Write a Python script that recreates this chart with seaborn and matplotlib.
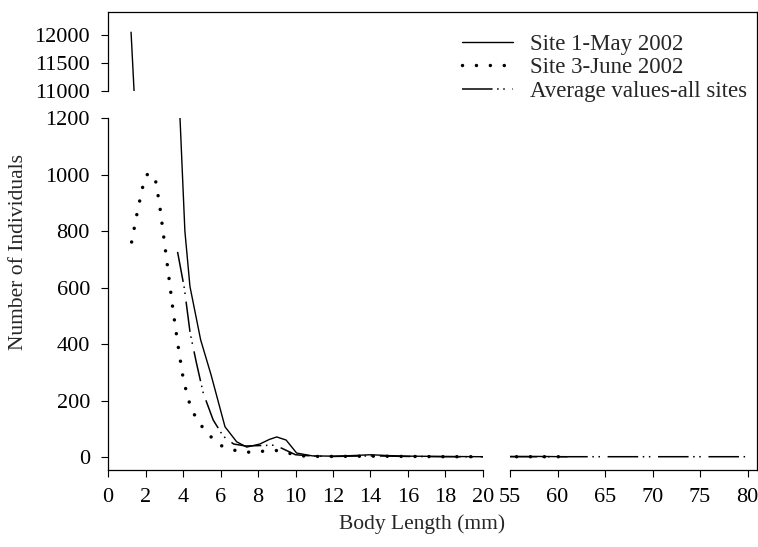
import matplotlib
matplotlib.use("Agg")
import matplotlib.pyplot as plt
import seaborn as sns

# --- data (body length in mm, number of individuals) ---
site1_x = [1.23, 2.0, 3.0, 3.84, 4.1, 4.37, 4.94, 5.5, 6.24, 6.86, 7.4, 8.1, 8.6,
           9.0, 9.5, 10.06, 10.9, 12, 13, 14, 15, 16, 18, 20, 55, 58, 61]
site1_y = [12050, 7000, 4000, 1200, 800, 604, 415, 290, 107, 54, 35, 46, 62,
           71, 60, 14, 4, 3, 5, 8, 5, 3, 2, 1, 2, 2, 1]

site3_x = [1.26, 1.53, 1.83, 2.06, 2.3, 2.51, 2.75, 3.12, 3.48, 3.79, 4.02, 4.2,
           4.4, 4.75, 5.3, 6.0, 6.73, 7.45, 8.18, 8.9, 9.6, 10.3, 11, 12, 14,
           16, 18, 20, 55, 58, 61]
site3_y = [761, 856, 951, 999, 1003, 989, 894, 703, 513, 370, 274, 227,
           178, 131, 83, 41, 24, 17, 20, 24, 14, 4, 2, 2, 3,
           2, 1, 1, 1, 1, 1]

avg_x = [3.71, 4.07, 4.38, 4.72, 5.08, 5.61, 6.14, 6.7, 7.34, 8.9, 9.3, 10.0,
         11, 12, 14, 16, 18, 20, 55, 60, 65, 70, 75, 80]
avg_y = [726, 598, 439, 332, 226, 131, 74, 46, 39, 42, 30, 8,
         3, 2, 4, 2, 1, 1, 1, 1, 1, 1, 1, 1]

labels = ["Site 1-May 2002", "Site 3-June 2002", "Average values-all sites"]

sns.set_theme(style="ticks")
plt.rcParams["font.family"] = ["Liberation Serif", "DejaVu Serif"]
FS_TICK = 16
FS_LEG = 16.5
FS_LAB = 15.5

fig = plt.figure(figsize=(7.58, 5.47), dpi=100)
W, H = 758, 547


def rect(x0, y0, x1, y1):
    # pixel box (top-left origin) -> figure fraction
    return [x0 / W, 1 - y1 / H, (x1 - x0) / W, (y1 - y0) / H]


ax_top = fig.add_axes(rect(108, 12, 757, 91))
ax_bl = fig.add_axes(rect(108, 118, 483, 470))
ax_br = fig.add_axes(rect(510, 118, 757, 470))

solid = dict(color="black", lw=1.0, linestyle="-")
dotted = dict(color="black", lw=2.5, linestyle=(0, (0.01, 4.0)), dash_capstyle="round")
dashdot = dict(color="black", lw=1.1, linestyle=(0, (20, 3, 1, 3, 1, 5)))

for ax in (ax_top, ax_bl, ax_br):
    lab = ax is ax_bl
    sns.lineplot(x=site1_x, y=site1_y, ax=ax, sort=False, estimator=None,
                 label=labels[0] if lab else None, **solid)
    sns.lineplot(x=site3_x, y=site3_y, ax=ax, sort=False, estimator=None,
                 label=labels[1] if lab else None, **dotted)
    sns.lineplot(x=avg_x, y=avg_y, ax=ax, sort=False, estimator=None,
                 label=labels[2] if lab else None, **dashdot)
    if ax.get_legend():
        ax.get_legend().remove()
    ax.set_xlabel("")
    ax.set_ylabel("")
    ax.tick_params(labelsize=FS_TICK, direction="out", length=5, width=0.8, pad=8,
                   colors="black")
    for s in ax.spines.values():
        s.set_linewidth(0.9)
        s.set_color("black")

# top panel (broken y): spans whole width, same x scale as left bottom panel
ax_top.set_xlim(0, 20 * (757 - 108) / (483 - 108))
ax_top.set_ylim(11000, 12410)
ax_top.set_yticks([11000, 11500, 12000])
ax_top.set_xticks([])
ax_top.spines["bottom"].set_visible(False)
ax_top.spines["right"].set_bounds(10450, 12410)

# bottom left
ax_bl.set_xlim(0, 20)
ax_bl.set_ylim(-46, 1200)
ax_bl.set_xticks(range(0, 21, 2))
ax_bl.set_yticks(range(0, 1201, 200))
ax_bl.spines["top"].set_visible(False)
ax_bl.spines["right"].set_visible(False)

# bottom right (broken x)
ax_br.set_xlim(55, 81.0)
ax_br.set_ylim(-46, 1200)
ax_br.set_xticks(range(55, 81, 5))
ax_br.set_yticks([])
ax_br.spines["top"].set_visible(False)
ax_br.spines["left"].set_visible(False)

handles, labs = ax_bl.get_legend_handles_labels()
fig.legend(handles, labs, loc="upper right", bbox_to_anchor=(747 / W, 1 - 34 / H),
           frameon=False, fontsize=FS_LEG, handlelength=2.2, handletextpad=0.75,
           labelspacing=0.1, borderpad=0, borderaxespad=0)

fig.text(422 / W, 1 - 524 / H, "Body Length (mm)", ha="center", va="center",
         fontsize=FS_LAB)
fig.text(19 / W, 1 - 252 / H, "Number of Individuals", ha="center", va="center",
         rotation=90, fontsize=FS_LAB)

fig.savefig("out.png", dpi=100)
